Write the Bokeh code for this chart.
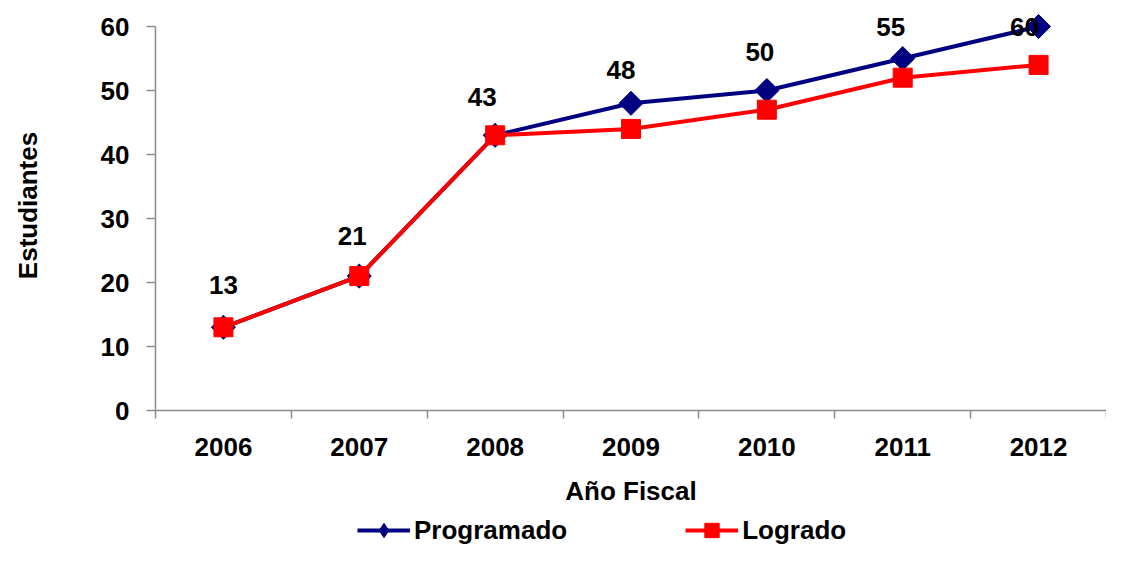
import math
from bokeh.plotting import figure
from bokeh.layouts import column
from bokeh.core.properties import value
from bokeh.models import (FixedTicker, Legend, LegendItem, LabelSet,
                          ColumnDataSource, Range1d, BasicTickFormatter)
from bokeh.embed import file_html
from bokeh.resources import INLINE

# ---- data ----
years = ["2006", "2007", "2008", "2009", "2010", "2011", "2012"]
programado = [13, 21, 43, 48, 50, 55, 60]
logrado = [13, 21, 43, 44, 47, 52, 54]
y_ticks = [0, 10, 20, 30, 40, 50, 60]

# ---- styles ----
FONT = "Liberation Sans"
NAVY = "#000080"
RED = "#FF0000"
AX = "#8C8C8C"
label_dx = [0, -7, -13, -10, -7, -12, -14]
label_dy = [42, 40, 38, 33, 39, 32, 0]
TOP_PAD = 26 * 60 / 384.0   # headroom above the axis top, in data units

xs = [int(y) for y in years]

p = figure(width=1106, height=511, output_backend="svg", toolbar_location=None,
           x_range=Range1d(xs[0] - 0.5, xs[-1] + 0.5),
           y_range=Range1d(y_ticks[0], y_ticks[-1] + TOP_PAD),
           min_border_left=155, min_border_right=0, min_border_top=0,
           min_border_bottom=101)
p.outline_line_color = None
p.xgrid.visible = False
p.ygrid.visible = False
p.background_fill_color = "white"
p.border_fill_color = "white"

# axes
xa = p.xaxis[0]
xa.ticker = FixedTicker(ticks=xs, minor_ticks=[x - 0.5 for x in xs] + [xs[-1] + 0.5])
xa.formatter = BasicTickFormatter(use_scientific=False)
xa.major_tick_out = 0
xa.major_tick_in = 0
xa.minor_tick_out = 8
xa.minor_tick_in = 0
xa.minor_tick_line_color = AX
xa.axis_line_color = AX
xa.axis_line_width = 1.5
xa.minor_tick_line_width = 1.5
xa.major_label_text_font = FONT
xa.major_label_text_font_style = "bold"
xa.major_label_text_font_size = "26px"
xa.major_label_text_color = "black"
xa.major_label_standoff = 19
xa.axis_label = "Año Fiscal"
xa.axis_label_text_font = FONT
xa.axis_label_text_font_style = "bold"
xa.axis_label_text_font_size = "26px"
xa.axis_label_text_color = "black"
xa.axis_label_standoff = 17

ya = p.yaxis[0]
ya.ticker = FixedTicker(ticks=y_ticks, minor_ticks=[])
ya.bounds = (y_ticks[0], y_ticks[-1])
ya.major_tick_out = 9
ya.major_tick_in = 0
ya.minor_tick_out = 0
ya.minor_tick_in = 0
ya.major_tick_line_color = AX
ya.major_tick_line_width = 1.5
ya.axis_line_color = AX
ya.axis_line_width = 1.5
ya.major_label_text_font = FONT
ya.major_label_text_font_style = "bold"
ya.major_label_text_font_size = "26px"
ya.major_label_text_color = "black"
ya.major_label_standoff = 17
ya.axis_label = "Estudiantes"
ya.axis_label_text_font = FONT
ya.axis_label_text_font_style = "bold"
ya.axis_label_text_font_size = "26px"
ya.axis_label_text_color = "black"
ya.axis_label_standoff = 55

# series
l1 = p.line(xs, programado, line_color=NAVY, line_width=4)
s1 = p.scatter(xs, programado, marker="square", size=17, angle=math.pi / 4,
               fill_color=NAVY, line_color=NAVY)
l2 = p.line(xs, logrado, line_color=RED, line_width=4)
s2 = p.scatter(xs, logrado, marker="square", size=19,
               fill_color=RED, line_color=RED)

# data labels
src = ColumnDataSource(dict(x=xs, y=programado, t=[str(v) for v in programado],
                            dx=label_dx, dy=label_dy))
labels = LabelSet(x="x", y="y", text="t", x_offset="dx", y_offset="dy", source=src,
                  text_font=value(FONT), text_font_style="bold",
                  text_font_size="26px", text_align="center",
                  text_baseline="middle", text_color="black")
p.add_layout(labels)

# legend strip (separate figure below the chart; its series lie outside its view)
lg = figure(width=1106, height=38, output_backend="svg", toolbar_location=None,
            x_range=Range1d(0, 1), y_range=Range1d(0, 1),
            x_axis_type=None, y_axis_type=None,
            min_border_left=0, min_border_right=0, min_border_top=0,
            min_border_bottom=0)
lg.outline_line_color = None
lg.xgrid.visible = False
lg.ygrid.visible = False
dl1 = lg.line(xs, programado, line_color=NAVY, line_width=4)
ds1 = lg.scatter(xs, programado, marker="diamond", size=24,
                 fill_color=NAVY, line_color=NAVY)
dl2 = lg.line(xs, logrado, line_color=RED, line_width=4)
ds2 = lg.scatter(xs, logrado, marker="square", size=19,
                 fill_color=RED, line_color=RED)
legend = Legend(items=[LegendItem(label="Programado", renderers=[dl1, ds1]),
                       LegendItem(label="Logrado", renderers=[dl2, ds2])],
                orientation="horizontal", location=(202, 1),
                label_text_font=FONT, label_text_font_style="bold",
                label_text_font_size="26px", label_text_color="black",
                spacing=118, glyph_width=53,
                glyph_height=36, label_standoff=4, padding=0, margin=0,
                border_line_alpha=0, background_fill_alpha=0)
lg.add_layout(legend, "center")

layout = column(p, lg, spacing=0)
open("out.html", "w").write(file_html(layout, INLINE))
